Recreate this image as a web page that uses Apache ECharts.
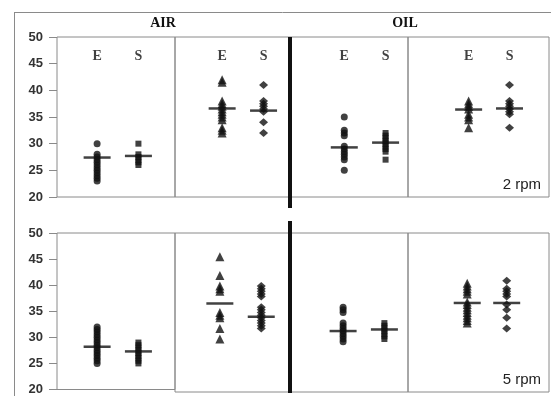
<!DOCTYPE html>
<html>
<head>
<meta charset="utf-8">
<script src="https://cdn.jsdelivr.net/npm/echarts@6/dist/echarts.min.js"></script>
<style>html,body{margin:0;padding:0;background:#fff;}#c{width:551px;height:396px;}</style>
</head>
<body>
<div id="c"></div>
<script>
// ---- Data ----
const yTicks = [20, 25, 30, 35, 40, 45, 50];
const fluids = ['AIR', 'OIL'];
const columns = ['E', 'S'];
const speeds = ['2 rpm', '5 rpm'];

// 2 rpm row, four panels (E and S values)
const rpm2_p1_E = [30, 28, 27.5, 27, 26.5, 26, 25.5, 25, 24.5, 24, 23.5, 23];
const rpm2_p1_S = [30, 28, 27.5, 27, 26.5, 26];
const rpm2_p2_E = [42, 41.5, 38, 37.5, 37, 36.5, 36, 35.5, 35, 34.5, 33, 32.5, 32];
const rpm2_p2_S = [41, 38, 37.5, 37, 36.5, 36, 34, 32];
const rpm2_p3_E = [35, 32.5, 32, 31.5, 29.5, 29, 28.5, 28, 27.5, 27, 25];
const rpm2_p3_S = [32, 31.5, 31, 30.5, 30, 29.5, 29, 28.5, 27];
const rpm2_p4_E = [38, 37.5, 37, 36.5, 35.5, 35, 34.5, 33];
const rpm2_p4_S = [41, 38, 37.5, 37, 36.5, 36, 35.5, 33];
const rpm2_means = [27.4, 27.7, 36.6, 36.2, 29.3, 30.2, 36.4, 36.6];

// 5 rpm row
const rpm5_p1_E = [32, 31.5, 31, 30.5, 30, 29.5, 29, 28.5, 28, 27.5, 27, 26.5, 26, 25.5, 25];
const rpm5_p1_S = [29, 28.5, 28, 27.5, 27, 26.5, 26, 25.5, 25];
const rpm5_p2_E = [45.5, 42, 40, 39.5, 39, 35, 34.5, 34, 32, 30];
const rpm5_p2_S = [40, 39.5, 39, 38.5, 38, 36, 35.5, 35, 34.5, 34, 33.5, 33, 32.5, 32];
const rpm5_p3_E = [36, 35.5, 35, 33, 32.5, 32, 31.5, 31, 30.5, 30, 29.5];
const rpm5_p3_S = [33, 32.5, 32, 31.5, 31, 30.5, 30];
const rpm5_p4_E = [40.5, 40, 39.5, 39, 38.5, 37, 36.5, 36, 35.5, 35, 34.5, 34, 33.5, 33];
const rpm5_p4_S = [41, 39.5, 39, 38.5, 38, 36.5, 35.5, 34, 32];
const rpm5_means = [28.2, 27.3, 36.7, 34.2, 31.5, 31.8, 36.8, 36.8];

const colLabelValue = 46.3; // y level of the "E"/"S" headers

// ---- Layout (style only) ----
const rows = [
  { top: 37, height: 160, panels: [[rpm2_p1_E, rpm2_p1_S], [rpm2_p2_E, rpm2_p2_S], [rpm2_p3_E, rpm2_p3_S], [rpm2_p4_E, rpm2_p4_S]], means: rpm2_means, headers: true },
  { top: 233, height: 159, panels: [[rpm5_p1_E, rpm5_p1_S], [rpm5_p2_E, rpm5_p2_S], [rpm5_p3_E, rpm5_p3_S], [rpm5_p4_E, rpm5_p4_S]], means: rpm5_means, headers: false }
];
const colBounds = [[57, 175], [175, 290], [290, 408], [408, 549]];
const colFrac = [
  [[0.34, 0.69], [0.41, 0.77], [0.46, 0.81], [0.43, 0.72]],
  [[0.34, 0.69], [0.39, 0.75], [0.45, 0.80], [0.42, 0.70]]
];
const symbolsE = ['circle', 'triangle', 'circle', 'triangle'];
const symbolsS = ['rect', 'diamond', 'rect', 'diamond'];
const sizeE = [7, 9, 7, 9];
const sizeS = [[6, 6], [9, 8], [6, 6], [9, 8]];

const grids = [], xAxes = [], yAxes = [], series = [];
let gi = 0;
rows.forEach((row, ri) => {
  row.panels.forEach((pan, pi) => {
    const [x0, x1] = colBounds[pi];
    grids.push({ left: x0, top: row.top, width: x1 - x0, height: row.height, show: true, borderColor: '#8a8a8a', borderWidth: 1, backgroundColor: 'transparent' });
    const [fE, fS] = colFrac[ri][pi];
    const unit = fS - fE;
    const mn = 1 - fE / unit;
    xAxes.push({ gridIndex: gi, type: 'value', min: mn, max: mn + 1 / unit, show: false });
    const showY = pi === 0;
    yAxes.push({
      gridIndex: gi, type: 'value', min: yTicks[0], max: yTicks[yTicks.length - 1], interval: 5,
      show: showY,
      axisLine: { show: false },
      axisTick: { show: true, length: 8, lineStyle: { color: '#8a8a8a', width: 1 } },
      splitLine: { show: false },
      axisLabel: { show: true, margin: 14, fontFamily: 'Liberation Sans, Arial', fontWeight: 'bold', fontSize: 13, color: '#333' }
    });
    const [eVals, sVals] = pan;
    series.push({ type: 'scatter', xAxisIndex: gi, yAxisIndex: gi, symbol: symbolsE[pi], symbolSize: sizeE[pi], itemStyle: { color: '#111' }, silent: true, data: eVals.map(v => [1, v]) });
    series.push({ type: 'scatter', xAxisIndex: gi, yAxisIndex: gi, symbol: symbolsS[pi], symbolSize: sizeS[pi], itemStyle: { color: '#111' }, silent: true, data: sVals.map(v => [2, v]) });
    series.push({ type: 'scatter', xAxisIndex: gi, yAxisIndex: gi, symbol: 'rect', symbolSize: [27, 2.5], itemStyle: { color: '#111' }, silent: true, z: 5,
      data: [[1, row.means[pi * 2]], [2, row.means[pi * 2 + 1]]] });
    if (row.headers) {
      series.push({ type: 'scatter', xAxisIndex: gi, yAxisIndex: gi, symbolSize: 0, silent: true,
        data: columns.map((c, k) => ({ value: [k + 1, colLabelValue], name: c })),
        label: { show: true, position: 'inside', formatter: p => p.name, fontFamily: 'Liberation Serif, Times New Roman', fontWeight: 'bold', fontSize: 14, color: '#111' } });
    }
    gi++;
  });
});

const chart = echarts.init(document.getElementById('c'), null, { renderer: 'canvas' });
chart.setOption({
  animation: false,
  backgroundColor: '#fff',
  grid: grids, xAxis: xAxes, yAxis: yAxes, series: series,
  graphic: [
    { type: 'line', shape: { x1: 14, y1: 12.5, x2: 551, y2: 12.5 }, style: { stroke: '#8a8a8a', lineWidth: 1 } },
    { type: 'line', shape: { x1: 14.5, y1: 12, x2: 14.5, y2: 396 }, style: { stroke: '#8a8a8a', lineWidth: 1 } },
    { type: 'rect', shape: { x: 288, y: 37, width: 4, height: 171 }, style: { fill: '#111' }, z: 10 },
    { type: 'rect', shape: { x: 288, y: 221, width: 4, height: 172 }, style: { fill: '#111' }, z: 10 },
    { type: 'text', x: 163, y: 23, style: { text: fluids[0], align: 'center', verticalAlign: 'middle', font: 'bold 14px "Liberation Serif", "Times New Roman"', fill: '#111' } },
    { type: 'text', x: 405, y: 23, style: { text: fluids[1], align: 'center', verticalAlign: 'middle', font: 'bold 14px "Liberation Serif", "Times New Roman"', fill: '#111' } },
    { type: 'text', x: 541, y: 185, style: { text: speeds[0], align: 'right', verticalAlign: 'middle', font: '15px "Liberation Sans", Arial', fill: '#222' } },
    { type: 'text', x: 541, y: 380, style: { text: speeds[1], align: 'right', verticalAlign: 'middle', font: '15px "Liberation Sans", Arial', fill: '#222' } }
  ]
});
</script>
</body>
</html>
